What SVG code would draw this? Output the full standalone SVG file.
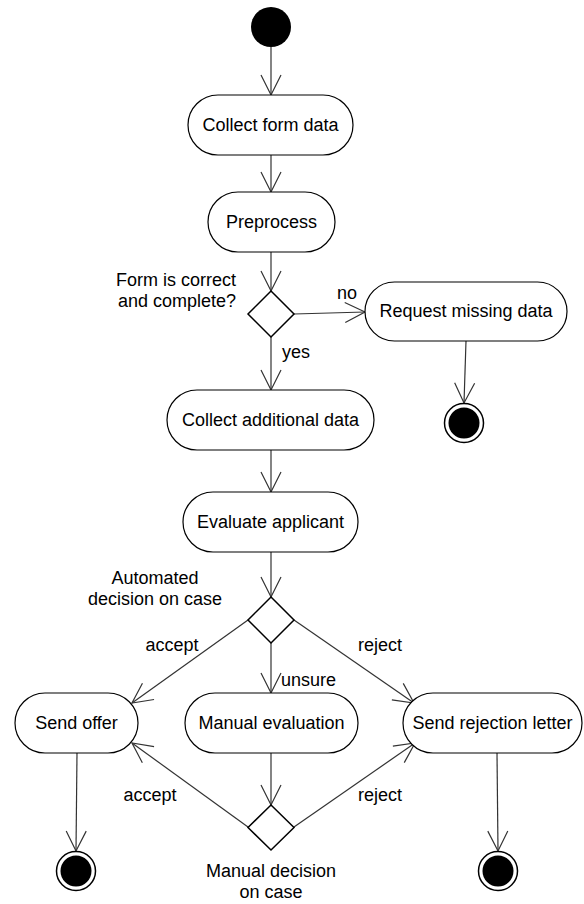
<svg xmlns="http://www.w3.org/2000/svg" width="584" height="904" viewBox="0 0 584 904">
  <style>
    text { font-family: "Liberation Sans", Arial, sans-serif; font-size: 18px; fill: #000; }
    .act { fill: #fff; stroke: #000; stroke-width: 1.2; }
    .dec { fill: #fff; stroke: #000; stroke-width: 1.5; }
    .flow { fill: none; stroke: #333; stroke-width: 1.2; marker-end: url(#open); }
    .mid { text-anchor: middle; }
    .end { text-anchor: end; }
  </style>
  <defs>
    <marker id="open" markerUnits="userSpaceOnUse" markerWidth="24" markerHeight="24" viewBox="-22 -12 24 24" refX="0" refY="0" orient="auto" overflow="visible">
      <path d="M-20,-10 L0,0 L-20,10" fill="none" stroke="#333" stroke-width="1.2"/>
    </marker>
  </defs>

  <!-- control flows -->
  <g id="flows">
    <line class="flow" x1="271" y1="47" x2="271" y2="95"/>
    <line class="flow" x1="271" y1="155" x2="271" y2="192"/>
    <line class="flow" x1="271" y1="252" x2="271" y2="291"/>
    <line class="flow" x1="294" y1="314" x2="365" y2="312"/>
    <line class="flow" x1="466" y1="341" x2="464" y2="403"/>
    <line class="flow" x1="271" y1="337" x2="271" y2="390"/>
    <line class="flow" x1="271" y1="450" x2="271" y2="492"/>
    <line class="flow" x1="271" y1="552" x2="271" y2="597"/>
    <line class="flow" x1="248" y1="620" x2="132" y2="703"/>
    <line class="flow" x1="271" y1="643" x2="271" y2="693"/>
    <line class="flow" x1="294" y1="620" x2="414" y2="703"/>
    <line class="flow" x1="271" y1="753" x2="271" y2="805"/>
    <line class="flow" x1="248" y1="827" x2="132" y2="743"/>
    <line class="flow" x1="294" y1="827" x2="415" y2="743"/>
    <line class="flow" x1="77" y1="753" x2="76" y2="851"/>
    <line class="flow" x1="497" y1="753" x2="498" y2="851"/>
    <text x="347" y="299" class="mid">no</text>
    <text x="296" y="358" class="mid">yes</text>
    <text x="172" y="651" class="mid">accept</text>
    <text x="281" y="686">unsure</text>
    <text x="380" y="651" class="mid">reject</text>
    <text x="150" y="801" class="mid">accept</text>
    <text x="380" y="801" class="mid">reject</text>
  </g>

  <g id="start">
    <circle cx="271" cy="27" r="20" fill="#000"/>
  </g>

  <g id="collect-form">
    <rect class="act" x="188" y="95" width="165" height="60" rx="30"/>
    <text x="270.5" y="131" class="mid">Collect form data</text>
  </g>

  <g id="preprocess">
    <rect class="act" x="208" y="192" width="127" height="60" rx="30"/>
    <text x="271.5" y="228" class="mid">Preprocess</text>
  </g>

  <g id="form-check">
    <polygon class="dec" points="271,291 294,314 271,337 248,314"/>
    <text x="236" y="286" class="end">Form is correct</text>
    <text x="236" y="307" class="end">and complete?</text>
  </g>

  <g id="request-missing">
    <rect class="act" x="365" y="282" width="202" height="59" rx="29.5"/>
    <text x="466" y="317" class="mid">Request missing data</text>
  </g>

  <g id="end-missing">
    <circle cx="464" cy="423" r="19.5" fill="#fff" stroke="#000" stroke-width="1.5"/>
    <circle cx="464" cy="423" r="15.5" fill="#000"/>
  </g>

  <g id="collect-additional">
    <rect class="act" x="167" y="390" width="207" height="60" rx="30"/>
    <text x="270.5" y="426" class="mid">Collect additional data</text>
  </g>

  <g id="evaluate">
    <rect class="act" x="183" y="492" width="175" height="60" rx="30"/>
    <text x="270.5" y="528" class="mid">Evaluate applicant</text>
  </g>

  <g id="auto-decision">
    <polygon class="dec" points="271,597 294,620 271,643 248,620"/>
    <text x="155" y="584" class="mid">Automated</text>
    <text x="155" y="605" class="mid">decision on case</text>
  </g>

  <g id="send-offer">
    <rect class="act" x="15" y="693" width="123" height="60" rx="30"/>
    <text x="76.5" y="729" class="mid">Send offer</text>
  </g>

  <g id="manual-evaluation">
    <rect class="act" x="185" y="693" width="173" height="60" rx="30"/>
    <text x="271.5" y="729" class="mid">Manual evaluation</text>
  </g>

  <g id="send-rejection">
    <rect class="act" x="403" y="693" width="179" height="60" rx="30"/>
    <text x="492.5" y="729" class="mid">Send rejection letter</text>
  </g>

  <g id="manual-decision">
    <polygon class="dec" points="271,805 294,827.5 271,850 248,827.5"/>
    <text x="271" y="877" class="mid">Manual decision</text>
    <text x="271" y="898" class="mid">on case</text>
  </g>

  <g id="end-offer">
    <circle cx="76" cy="871" r="19.5" fill="#fff" stroke="#000" stroke-width="1.5"/>
    <circle cx="76" cy="871" r="15.5" fill="#000"/>
  </g>

  <g id="end-rejection">
    <circle cx="498" cy="871" r="19.5" fill="#fff" stroke="#000" stroke-width="1.5"/>
    <circle cx="498" cy="871" r="15.5" fill="#000"/>
  </g>
</svg>
